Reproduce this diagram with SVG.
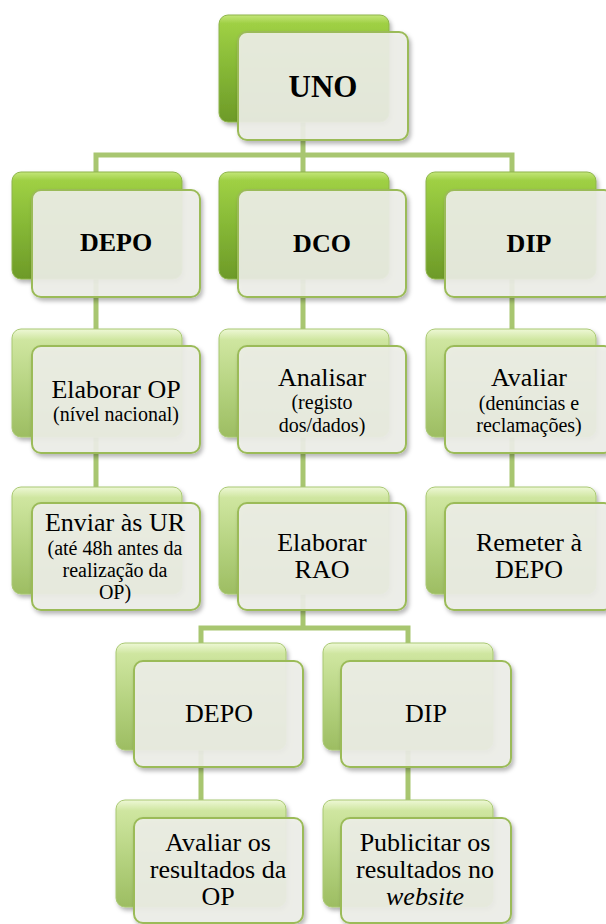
<svg xmlns="http://www.w3.org/2000/svg" width="606" height="924" viewBox="0 0 606 924">
<defs>
<linearGradient id="gTop" x1="0" y1="0" x2="0" y2="1">
<stop offset="0" stop-color="#c4e67a"/>
<stop offset="0.08" stop-color="#9fd044"/>
<stop offset="0.5" stop-color="#86b836"/>
<stop offset="1" stop-color="#6d9a28"/>
</linearGradient>
<linearGradient id="gLow" x1="0" y1="0" x2="0" y2="1">
<stop offset="0" stop-color="#eef8d6"/>
<stop offset="0.1" stop-color="#cfe6a0"/>
<stop offset="0.6" stop-color="#b2d07c"/>
<stop offset="1" stop-color="#9dbd62"/>
</linearGradient>
<filter id="sh" x="-10%" y="-10%" width="130%" height="130%">
<feDropShadow dx="2" dy="3" stdDeviation="2" flood-color="#000" flood-opacity="0.3"/>
</filter>
</defs>
<style>
.bt{fill:url(#gTop);stroke:#8db44a;stroke-width:1;filter:url(#sh)}
.bl{fill:url(#gLow);stroke:#a9c872;stroke-width:1;filter:url(#sh)}
.fr{fill:#eeefe9;fill-opacity:0.9;stroke:#9bbb59;stroke-width:2;filter:url(#sh)}
.c{fill:none;stroke:#a8c670;stroke-width:5}
text{fill:#000;text-anchor:middle;font-family:"Liberation Serif","Times New Roman",Times,"DejaVu Serif","Noto Serif",Tinos,FreeSerif,serif}
.h{font-weight:bold;font-size:26px}
.m{font-size:26px}
.s{font-size:20px}
</style>
<g id="connectors">
<path class="c" d="M303 122 V172 M96 172 V155 H512 V172"/>
<path class="c" d="M96 279 V487 M303 279 V487 M512 279 V487"/>
<path class="c" d="M303 594 V628 M201 643 V628 H408 V643"/>
<path class="c" d="M201 750 V800 M408 750 V800"/>
</g>
<g id="uno">
<rect class="bt" x="219" y="15" width="170" height="107" rx="9"/>
<rect class="fr" x="238" y="32" width="170" height="108" rx="9"/>
<text class="h" x="323" y="97" style="font-size:31px">UNO</text>
</g>
<g id="depo">
<rect class="bt" x="12" y="172" width="170" height="107" rx="9"/>
<rect class="fr" x="32" y="190" width="168" height="107" rx="9"/>
<text class="h" x="116" y="251">DEPO</text>
</g>
<g id="dco">
<rect class="bt" x="219" y="172" width="170" height="107" rx="9"/>
<rect class="fr" x="238" y="190" width="168" height="107" rx="9"/>
<text class="h" x="322" y="252">DCO</text>
</g>
<g id="dip">
<rect class="bt" x="426" y="172" width="170" height="107" rx="9"/>
<rect class="fr" x="445" y="190" width="168" height="107" rx="9"/>
<text class="h" x="529" y="252">DIP</text>
</g>
<g id="elaborar-op">
<rect class="bl" x="12" y="329" width="170" height="108" rx="9"/>
<rect class="fr" x="32" y="346" width="168" height="107" rx="9"/>
<text class="m" x="116" y="398">Elaborar OP</text>
<text class="s" x="116" y="421">(nível nacional)</text>
</g>
<g id="analisar">
<rect class="bl" x="219" y="329" width="170" height="108" rx="9"/>
<rect class="fr" x="238" y="346" width="168" height="107" rx="9"/>
<text class="m" x="322" y="386">Analisar</text>
<text class="s" x="322" y="409">(registo</text>
<text class="s" x="322" y="432">dos/dados)</text>
</g>
<g id="avaliar">
<rect class="bl" x="426" y="329" width="170" height="108" rx="9"/>
<rect class="fr" x="445" y="346" width="168" height="107" rx="9"/>
<text class="m" x="529" y="386">Avaliar</text>
<text class="s" x="529" y="410">(denúncias e</text>
<text class="s" x="529" y="432">reclamações)</text>
</g>
<g id="enviar">
<rect class="bl" x="12" y="487" width="170" height="107" rx="9"/>
<rect class="fr" x="32" y="503" width="168" height="107" rx="9"/>
<text class="m" x="115" y="531">Enviar às UR</text>
<text class="s" x="115" y="555">(até 48h antes da</text>
<text class="s" x="115" y="577">realização da</text>
<text class="s" x="115" y="599">OP)</text>
</g>
<g id="elaborar-rao">
<rect class="bl" x="219" y="487" width="170" height="107" rx="9"/>
<rect class="fr" x="238" y="503" width="168" height="107" rx="9"/>
<text class="m" x="322" y="551">Elaborar</text>
<text class="m" x="322" y="578">RAO</text>
</g>
<g id="remeter">
<rect class="bl" x="426" y="487" width="170" height="107" rx="9"/>
<rect class="fr" x="445" y="503" width="168" height="107" rx="9"/>
<text class="m" x="529" y="551">Remeter à</text>
<text class="m" x="529" y="578">DEPO</text>
</g>
<g id="depo2">
<rect class="bl" x="116" y="643" width="170" height="107" rx="9"/>
<rect class="fr" x="134" y="661" width="169" height="106" rx="9"/>
<text class="m" x="219" y="722">DEPO</text>
</g>
<g id="dip2">
<rect class="bl" x="323" y="643" width="170" height="107" rx="9"/>
<rect class="fr" x="341" y="661" width="170" height="106" rx="9"/>
<text class="m" x="426" y="722">DIP</text>
</g>
<g id="avaliar-resultados">
<rect class="bl" x="116" y="800" width="170" height="107" rx="9"/>
<rect class="fr" x="134" y="818" width="169" height="105" rx="9"/>
<text class="m" x="218" y="851">Avaliar os</text>
<text class="m" x="218" y="878">resultados da</text>
<text class="m" x="218" y="905">OP</text>
</g>
<g id="publicitar">
<rect class="bl" x="323" y="800" width="170" height="107" rx="9"/>
<rect class="fr" x="341" y="818" width="170" height="105" rx="9"/>
<text class="m" x="425" y="851">Publicitar os</text>
<text class="m" x="425" y="878">resultados no</text>
<text class="m" x="425" y="905" font-style="italic">website</text>
</g>
</svg>
